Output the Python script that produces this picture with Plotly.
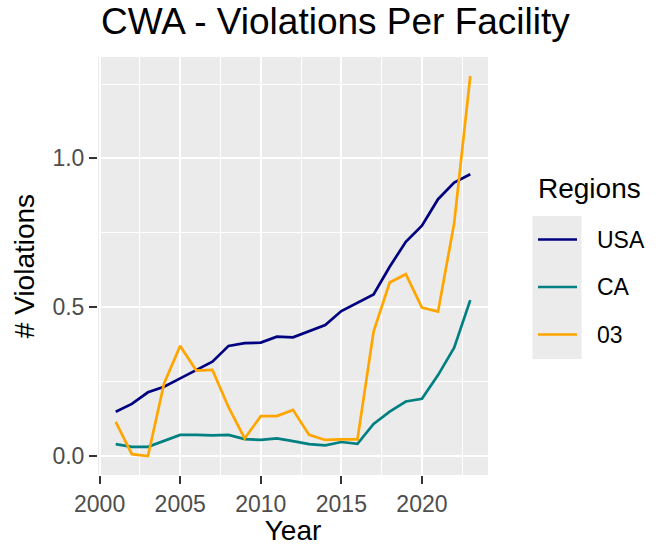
import plotly.graph_objects as go

years = list(range(2001, 2024))
usa = [0.149, 0.175, 0.214, 0.233, 0.261, 0.289, 0.317, 0.370, 0.379, 0.381, 0.401, 0.399,
       0.420, 0.440, 0.487, 0.515, 0.543, 0.636, 0.720, 0.774, 0.863, 0.919, 0.947]
ca = [0.040, 0.031, 0.031, 0.052, 0.071, 0.071, 0.069, 0.071, 0.057, 0.054, 0.059, 0.050,
      0.040, 0.036, 0.047, 0.041, 0.108, 0.149, 0.183, 0.192, 0.272, 0.364, 0.524]
r03 = [0.115, 0.006, 0.000, 0.244, 0.370, 0.287, 0.289, 0.164, 0.059, 0.134, 0.134, 0.155,
       0.071, 0.054, 0.056, 0.056, 0.418, 0.583, 0.611, 0.499, 0.485, 0.782, 1.277]
series_names = ["USA", "CA", "03"]
series_colors = ["#000080", "#008080", "#FFA500"]
x_ticks = [2000, 2005, 2010, 2015, 2020]
y_ticks = [0.0, 0.5, 1.0]

FONT = "Liberation Sans, Arial, sans-serif"
W, H = 658, 546
L, R, T, B = 98, 170, 57, 71
pw = W - L - R
ph = H - T - B


def px_x(px):
    return (px - L) / pw


def px_y(py):
    return 1 - (py - T) / ph


fig = go.Figure()
for name, vals, col in zip(series_names, [usa, ca, r03], series_colors):
    fig.add_trace(go.Scatter(x=years, y=vals, mode="lines", name=name,
                             line=dict(color=col, width=2.7), showlegend=False))

xmin, xmax = min(years), max(years)
xpad = (xmax - xmin) * 0.05
allv = usa + ca + r03
ymin, ymax = min(allv), max(allv)
ypad = (ymax - ymin) * 0.05

# legend drawn in ggplot style (keys with grey background)
shapes = [dict(type="rect", xref="paper", yref="paper", x0=px_x(532.5), x1=px_x(581.5),
               y0=px_y(359), y1=px_y(216), fillcolor="#EBEBEB", line=dict(width=0))]
annotations = [dict(text="Regions", xref="paper", yref="paper", x=px_x(536), y=px_y(188),
                    xanchor="left", yanchor="middle", showarrow=False,
                    font=dict(size=28, color="black", family=FONT))]
key_y = [239.5, 287, 334.5]
for name, col, ky in zip(series_names, series_colors, key_y):
    shapes.append(dict(type="line", xref="paper", yref="paper", x0=px_x(538), x1=px_x(577),
                       y0=px_y(ky), y1=px_y(ky), line=dict(color=col, width=2.7)))
    annotations.append(dict(text=name, xref="paper", yref="paper", x=px_x(595), y=px_y(ky),
                            xanchor="left", yanchor="middle", showarrow=False,
                            font=dict(size=23, color="black", family=FONT)))

fig.update_layout(
    width=W, height=H,
    margin=dict(l=L, r=R, t=T, b=B, pad=0, autoexpand=False),
    paper_bgcolor="white",
    plot_bgcolor="#EBEBEB",
    font=dict(family=FONT, color="black"),
    title=dict(text="CWA - Violations Per Facility", x=px_x(101), xref="paper", xanchor="left",
               y=1 - 21 / H, yref="container", yanchor="middle",
               font=dict(size=37, color="black", family=FONT)),
    showlegend=False,
    shapes=shapes,
    annotations=annotations,
)

fig.update_xaxes(
    range=[xmin - xpad, xmax + xpad],
    tickvals=x_ticks, ticktext=[str(v) for v in x_ticks],
    ticks="outside", ticklen=8, tickwidth=2, tickcolor="#333333",
    tickfont=dict(size=23, color="#4D4D4D", family=FONT),
    showgrid=True, gridcolor="white", gridwidth=1.6,
    minor=dict(dtick=2.5, tick0=2002.5, showgrid=True, gridcolor="white", gridwidth=0.8, ticks=""),
    zeroline=False, showline=False, automargin=False,
    title=dict(text="Year", font=dict(size=28, color="black", family=FONT), standoff=4),
)
fig.update_yaxes(
    range=[ymin - ypad, ymax + ypad],
    tickvals=y_ticks, ticktext=["%.1f" % v for v in y_ticks],
    ticks="outside", ticklen=8, tickwidth=2, tickcolor="#333333",
    tickfont=dict(size=23, color="#4D4D4D", family=FONT),
    showgrid=True, gridcolor="white", gridwidth=1.6,
    minor=dict(dtick=0.25, tick0=0.25, showgrid=True, gridcolor="white", gridwidth=0.8, ticks=""),
    zeroline=False, showline=False, automargin=False,
    title=dict(text="# Violations", font=dict(size=28, color="black", family=FONT), standoff=9),
)

fig.write_html("out.html", config={"displayModeBar": False},
               post_script="document.body.style.margin='0';document.body.style.overflow='hidden';")
